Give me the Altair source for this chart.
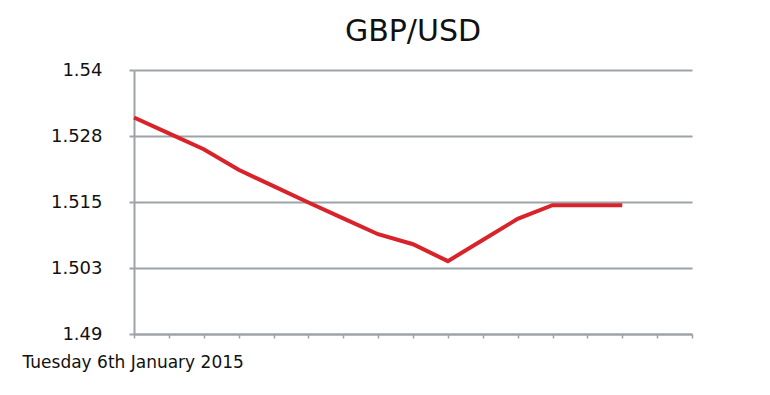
import altair as alt
import pandas as pd

# Data
x_index = list(range(15))
gbp_usd = [1.5310, 1.5280, 1.5250, 1.5211, 1.5180, 1.5149, 1.5119, 1.5089,
           1.5070, 1.5038, 1.5078, 1.5118, 1.5144, 1.5144, 1.5144]
y_tick_values = [1.49, 1.5025, 1.515, 1.5275, 1.54]
y_tick_labels = ["1.49", "1.503", "1.515", "1.528", "1.54"]
x_tick_values = list(range(17))
title_text = "GBP/USD"
date_text = "Tuesday 6th January 2015"

df = pd.DataFrame({"i": x_index, "rate": gbp_usd})

label_expr = ""
for v, l in zip(y_tick_values, y_tick_labels):
    label_expr += f"datum.value == {v} ? '{l}' : "
label_expr += "datum.label"

FONT = "DejaVu Sans"
GRID = "#9ea3a8"

chart = alt.Chart(df).mark_line(color="#d9232a", strokeWidth=4, strokeJoin="miter", strokeCap="butt").encode(
    x=alt.X("i:Q",
            scale=alt.Scale(domain=[0, 16], nice=False, zero=False),
            axis=alt.Axis(values=x_tick_values, labels=False, grid=False,
                          tickSize=4, tickColor=GRID, tickWidth=1.5,
                          domainColor=GRID, domainWidth=2,
                          title=date_text, titleFont=FONT, titleFontSize=17,
                          titleFontWeight="normal", titleColor="#111111",
                          titleAnchor="start", titleAlign="left",
                          titleX=-112, titleY=33, titleBaseline="alphabetic")),
    y=alt.Y("rate:Q",
            scale=alt.Scale(domain=[1.49, 1.54], nice=False, zero=False),
            axis=alt.Axis(values=y_tick_values, labelExpr=label_expr,
                          grid=True, gridColor=GRID, gridWidth=2,
                          tickSize=5, tickColor=GRID, tickWidth=2,
                          domainColor=GRID, domainWidth=2,
                          labelFont=FONT, labelFontSize=18, labelColor="#111111",
                          labelPadding=27, title=None)),
).properties(
    width=558,
    height=264,
    background="white",
    title=alt.TitleParams(title_text, font=FONT, fontSize=30, fontWeight="normal",
                          color="#111111", anchor="middle", offset=14),
    autosize=alt.AutoSizeParams(type="none"),
    padding={"left": 134, "top": 70, "right": 78, "bottom": 61},
).configure_view(strokeWidth=0, stroke="transparent")

chart.save("out.html", embed_options={"renderer": "svg", "actions": False})
